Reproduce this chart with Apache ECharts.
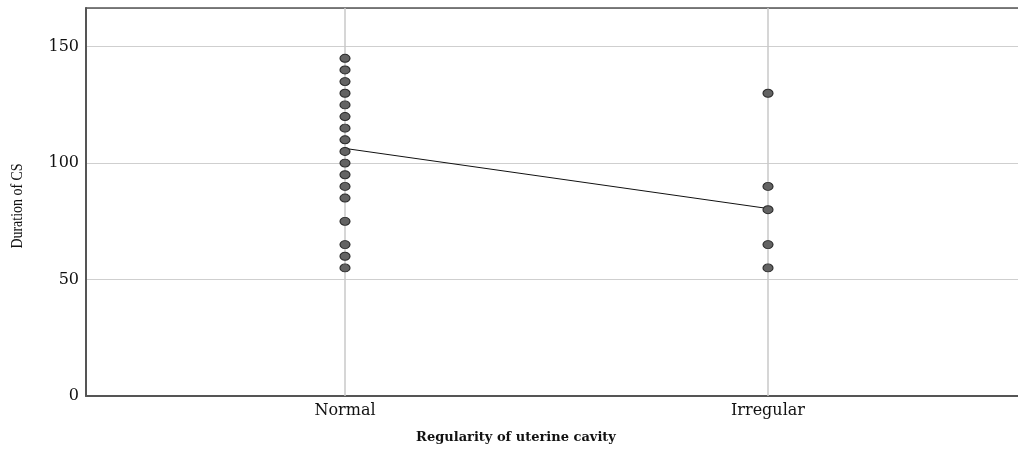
<!DOCTYPE html>
<html>
<head>
<meta charset="utf-8">
<script src="https://cdn.jsdelivr.net/npm/echarts@6/dist/echarts.min.js"></script>
<style>html,body{margin:0;padding:0;background:#fff;}#c{width:1018px;height:451px;}</style>
</head>
<body>
<div id="c"></div>
<script>
const categories = ['Normal', 'Irregular'];
const normalValues = [145, 140, 135, 130, 125, 120, 115, 110, 105, 100, 95, 90, 85, 75, 65, 60, 55];
const irregularValues = [130, 90, 80, 65, 55];
const lineValues = [106.3, 80.5];
const yTicks = [0, 50, 100, 150];

const groups = [normalValues, irregularValues];
const scatterData = [];
groups.forEach((vals, i) => vals.forEach(v => scatterData.push([i + 1, v])));
const lineData = lineValues.map((v, i) => [i + 1, v]);

const chart = echarts.init(document.getElementById('c'));
const ell = 'path://M0 5a5 5 0 1 0 10 0a5 5 0 1 0 -10 0z';
chart.setOption({
  animation: false,
  grid: { left: 86, top: 8, right: 0, bottom: 55 },
  xAxis: [{
    type: 'value', min: 0.3877, max: 2.591,
    axisLine: { show: true, lineStyle: { color: '#555', width: 2 } },
    axisTick: { show: false },
    splitLine: { show: false },
    axisLabel: {
      customValues: categories.map((c, i) => i + 1),
      formatter: v => categories[Math.round(v) - 1] || '',
      fontFamily: 'DejaVu Serif', fontSize: 16, color: '#111', margin: 7
    }
  }, {
    type: 'value', min: 0.3877, max: 2.591, position: 'top',
    axisLine: { show: true, lineStyle: { color: '#555', width: 1.5 } },
    axisTick: { show: false }, axisLabel: { show: false }, splitLine: { show: false }
  }],
  yAxis: {
    type: 'value', min: 0, max: 166.6, interval: 50,
    axisLine: { show: true, lineStyle: { color: '#555', width: 2 } },
    axisTick: { show: false },
    splitLine: { show: true, lineStyle: { color: '#cfcfcf', width: 1 } },
    axisLabel: {
      customValues: yTicks,
      fontFamily: 'DejaVu Serif', fontSize: 16, color: '#111', margin: 7
    }
  },
  graphic: [{
    type: 'text', x: 516, y: 438,
    style: { text: 'Regularity of uterine cavity', font: 'bold 13px "DejaVu Serif"', fill: '#111', align: 'center', verticalAlign: 'middle' }
  }, {
    type: 'text', x: 18, y: 206, rotation: Math.PI / 2, scaleX: 0.82,
    style: { text: 'Duration of CS', font: '17px "Liberation Serif"', fill: '#111', align: 'center', verticalAlign: 'middle' }
  }],
  series: [
    {
      type: 'line', data: [], symbol: 'none', z: 1,
      markLine: {
        silent: true, symbol: 'none', label: { show: false },
        lineStyle: { color: '#c8c8c8', width: 1.5, type: 'solid' },
        data: categories.map((c, i) => ({ xAxis: i + 1 }))
      }
    },
    {
      type: 'line', data: lineData, symbol: 'none',
      lineStyle: { color: '#111', width: 1 }, z: 3
    },
    {
      type: 'scatter', data: scatterData, symbol: ell, symbolSize: [10, 8], z: 10,
      itemStyle: { color: '#636363', borderColor: '#2a2a2a', borderWidth: 1, opacity: 1 }
    }
  ]
});
</script>
</body>
</html>
